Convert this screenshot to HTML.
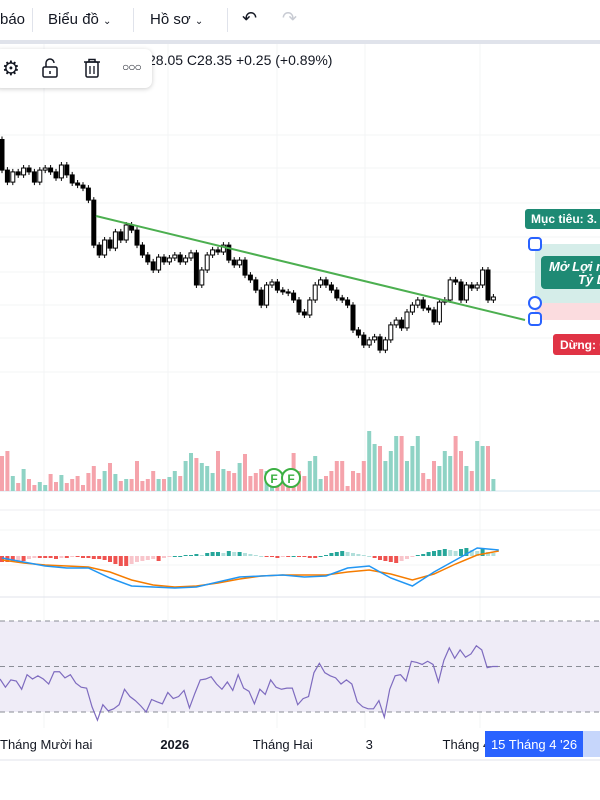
<!DOCTYPE html>
<html><head><meta charset="utf-8">
<style>
html,body{margin:0;padding:0;background:#fff;width:600px;height:800px;overflow:hidden;font-family:"Liberation Sans","DejaVu Sans",sans-serif;}
#wrap{position:relative;width:600px;height:800px;}
.tb{position:absolute;font-size:15px;color:#131722;top:11px;}
</style></head><body>
<div id="wrap">
<div style="position:absolute;left:0;top:0;width:600px;height:40px;background:#fff;border-bottom:4px solid #e0e3eb;">
  <span class="tb" style="left:0">báo</span>
  <div style="position:absolute;left:32px;top:8px;width:1px;height:24px;background:#e0e3eb"></div>
  <span class="tb" style="left:48px">Biểu đồ <span style="font-size:10px">&#8964;</span></span>
  <div style="position:absolute;left:133px;top:8px;width:1px;height:24px;background:#e0e3eb"></div>
  <span class="tb" style="left:150px">Hồ sơ <span style="font-size:10px">&#8964;</span></span>
  <div style="position:absolute;left:227px;top:8px;width:1px;height:24px;background:#e0e3eb"></div>
  <span class="tb" style="left:242px;font-size:18px;top:8px">&#8630;</span>
  <span class="tb" style="left:282px;font-size:18px;top:8px;color:#c8cbd3">&#8631;</span>
</div>
<svg id="chart" width="600" height="800" style="position:absolute;left:0;top:0">
  <g id="grid" stroke="#f3f4f6" stroke-width="1"></g>
  <rect x="0" y="621" width="600" height="91" fill="#efecf7"/>
  <g id="rsiLines" stroke="#8a8d96" stroke-dasharray="5,4" stroke-width="1"></g>
  <line x1="0" y1="491" x2="600" y2="491" stroke="#d6e4ef"/>
  <line x1="0" y1="510" x2="600" y2="510" stroke="#eceef2"/>
  <line x1="0" y1="597" x2="600" y2="597" stroke="#e0e3eb"/>
  <line x1="0" y1="760" x2="600" y2="760" stroke="#e0e3eb"/>
  <g id="vol"></g>
  <g id="macdHist"></g>
  <g id="candles"></g>
  <g id="lines"></g>
  <line x1="96" y1="216" x2="525" y2="320" stroke="#4caf50" stroke-width="2"/>
  <g>
    <rect x="535" y="244" width="65" height="59" fill="#d5ede9"/>
    <rect x="535" y="303" width="65" height="17" fill="#fbdcdf"/>
    <rect x="541" y="256" width="70" height="33" rx="4" fill="#1e8a74"/>
    <text x="549" y="271" fill="#fff" font-size="13" font-style="italic" font-weight="bold">Mở Lợi nhuận</text>
    <text x="578" y="284" fill="#fff" font-size="13" font-style="italic" font-weight="bold">Tỷ Lệ</text>
    <rect x="525" y="209" width="80" height="20" rx="3" fill="#1e8a74"/>
    <text x="531" y="223" fill="#fff" font-size="12" font-weight="bold">Mục tiêu: 3.</text>
    <rect x="553" y="334" width="60" height="21" rx="3" fill="#e03345"/>
    <text x="560" y="349" fill="#fff" font-size="12" font-weight="bold">Dừng: 0</text>
    <rect x="529" y="238" width="12" height="12" rx="3" fill="#fff" stroke="#2962ff" stroke-width="2"/>
    <circle cx="535" cy="303" r="6" fill="#fff" stroke="#2962ff" stroke-width="2"/>
    <rect x="529" y="313" width="12" height="12" rx="3" fill="#fff" stroke="#2962ff" stroke-width="2"/>
  </g>
  <g>
    <circle cx="274" cy="478" r="9" fill="#fff" stroke="#3cb043" stroke-width="2"/>
    <text x="274" y="483" fill="#3cb043" font-size="12" font-weight="bold" text-anchor="middle">F</text>
    <circle cx="291" cy="478" r="9" fill="#fff" stroke="#3cb043" stroke-width="2"/>
    <text x="291" y="483" fill="#3cb043" font-size="12" font-weight="bold" text-anchor="middle">F</text>
  </g>
  <g id="timeAxis" font-size="13" fill="#131722"></g>
  <rect x="534" y="731" width="66" height="26" fill="#c6d6fb"/>
  <rect x="485" y="731" width="98" height="26" fill="#2962ff"/>
  <text x="534" y="749" fill="#fff" font-size="13" text-anchor="middle">15 Tháng 4 '26</text>
  <text x="148" y="65" fill="#131722" font-size="14">28.05  C28.35  +0.25 (+0.89%)</text>
</svg>
<div style="position:absolute;left:-6px;top:49px;width:158px;height:39px;background:#fff;border-radius:7px;box-shadow:0 1px 5px rgba(0,0,0,0.2);">
  <span style="position:absolute;left:8px;top:7px;font-size:20px;color:#131722">&#9881;</span>
  <svg style="position:absolute;left:48px;top:9px" width="16" height="20"><path d="M4 9 V5 a4 4 0 0 1 8 0" fill="none" stroke="#131722" stroke-width="1.5"/><rect x="1" y="9" width="14" height="10" rx="1.5" fill="none" stroke="#131722" stroke-width="1.5"/><line x1="8" y1="13" x2="8" y2="16" stroke="#131722" stroke-width="1.5"/></svg>
  <svg style="position:absolute;left:89px;top:9px" width="18" height="20"><line x1="1" y1="4" x2="17" y2="4" stroke="#131722" stroke-width="1.5"/><path d="M6 4 V1.5 H12 V4" fill="none" stroke="#131722" stroke-width="1.5"/><rect x="3" y="4" width="12" height="15" rx="1.5" fill="none" stroke="#131722" stroke-width="1.5"/><line x1="7" y1="8" x2="7" y2="16" stroke="#131722" stroke-width="1.3"/><line x1="11" y1="8" x2="11" y2="16" stroke="#131722" stroke-width="1.3"/></svg>
  <span style="position:absolute;left:128px;top:11px;font-size:12px;color:#131722;letter-spacing:-1px">&#9675;&#9675;&#9675;</span>
</div>
</div>
<script>
var closes=[32.58,32.18,32.52,32.42,32.65,32.52,32.18,32.58,32.65,32.52,32.32,32.75,32.42,32.15,32.08,31.98,31.58,30.08,29.75,30.25,29.98,30.52,30.25,30.75,30.58,30.08,29.75,29.52,29.25,29.68,29.52,29.65,29.75,29.52,29.65,29.82,28.75,29.25,29.75,29.92,29.85,30.08,29.58,29.42,29.58,29.08,28.92,28.58,28.08,28.75,28.85,28.58,28.52,28.48,28.25,27.85,27.75,28.25,28.75,28.92,28.75,28.58,28.32,28.25,28.08,27.25,27.08,26.75,26.92,27.02,26.58,26.92,27.42,27.58,27.32,27.85,28.08,28.25,27.98,27.92,27.52,28.18,28.25,28.92,28.85,28.25,28.75,28.65,28.75,29.25,28.25,28.35];
var firstOpen=33.6;
var volumes=[35,40,15,8,22,12,6,9,6,17,9,16,8,12,15,6,18,25,12,20,28,17,10,12,12,30,10,12,20,12,12,14,20,15,30,38,33,28,25,18,40,22,20,18,28,37,15,18,22,20,10,20,15,20,38,20,15,30,35,12,15,20,30,30,5,20,18,30,60,47,45,30,40,55,55,30,45,55,18,12,30,25,40,35,55,40,25,20,50,45,45,12];
var macdHistVals=[-6,-6,-6,-5,-5,-3,-2,-2,-2,-2,-3,-2,-2,-1,-1,-2,-2,-3,-3,-4,-6,-8,-10,-10,-8,-6,-5,-4,-3,-5,-2,-1,0,0,1,1,2,1,3,4,4,3,5,4,4,3,2,1,0,-1,-1,-2,-1,-1,0,-1,-1,-2,-2,0,1,3,4,5,4,3,2,1,0,-2,-4,-5,-6,-7,-5,-3,-1,1,2,4,5,6,7,6,5,7,8,6,5,7,4,3];
var macdLine=[-2,-6,-10,-12,-12,-22,-30,-31,-32,-31,-26,-21,-20,-19,-21,-20,-12,-10,-22,-30,-16,-4,8,6];
var signalLine=[-4,-7,-9,-10,-11,-16,-24,-29,-31,-30,-27,-23,-20,-19,-19,-19,-16,-14,-18,-24,-18,-8,1,5];
var rsiVals=[44.5,40.9,44.1,43.6,40,46.4,44.5,45.9,44.5,42.3,47.7,47.7,45,46.4,42.7,40.9,40.5,32.3,26.4,33.2,30.5,31.4,33.2,40,36.8,35,32.7,30,35.5,34.5,33.6,38.6,35.9,36.8,39.5,31.8,38.2,44.1,44.5,45.5,42.3,40,43.2,39.5,46.4,40.5,39.1,33.6,40,37.7,44.1,40.9,40,40.5,40.5,33.2,35.9,36.8,47.3,51.4,47.3,45.9,45,42.3,44.1,42.3,34.5,32.3,31.4,31.4,35,27.7,40,45.9,46.4,43.6,52.3,51.8,50.9,52.3,50.9,43.2,52.7,58.2,53.6,57.3,54.1,55.5,59.1,57.3,49.5,50,50];
var rsiLevels=[70,50,30];
var timeLabels=["Tháng Mười hai","2026","Tháng Hai","3","Tháng 4"];
var timeLabelBars=[9,32,52,68,86];

var NS="http://www.w3.org/2000/svg";
function mk(tag,attrs,parent){var e=document.createElementNS(NS,tag);for(var k in attrs)e.setAttribute(k,attrs[k]);parent.appendChild(e);return e;}
function xBar(i){return 2+i*5.4;}
function yPrice(p){return 297-(p-28.35)*30;}
function yVol(v){return 491-v;}
function yMacd(v){return 556-v;}
function yRsi(v){return 666.5-(v-50)*2.275;}

var grid=document.getElementById('grid');
[44,168,277,365,480].forEach(function(x){var l=mk('line',{x1:x,y1:44,x2:x,y2:728},grid);

});
[135,168,203,237,272,305,338,372,530,565].forEach(function(y){var l=mk('line',{x1:0,y1:y,x2:600,y2:y},grid);

});

var rl=document.getElementById('rsiLines');
rsiLevels.forEach(function(v){var l=mk('line',{x1:0,y1:yRsi(v),x2:600,y2:yRsi(v)},rl);

});

var cg=document.getElementById('candles');
closes.forEach(function(c,i){
  var o=i===0?firstOpen:closes[i-1];
  var x=xBar(i), yo=yPrice(o), yc=yPrice(c);
  var top=Math.min(yo,yc), bot=Math.max(yo,yc);
  var w=mk('line',{x1:x,y1:top-3,x2:x,y2:bot+3,stroke:'#000','stroke-width':1},cg);
  
  
  var up=c>=o;
  var r=mk('rect',{x:x-2,y:top,width:4,height:Math.max(1,bot-top),fill:up?'#fff':'#000',stroke:'#000','stroke-width':1},cg);
  
  
});

var vg=document.getElementById('vol');
volumes.forEach(function(v,i){
  var o=i===0?firstOpen:closes[i-1];
  var r=mk('rect',{x:xBar(i)-2,y:yVol(v),width:4,height:v,fill:closes[i]>=o?'#8fd3c5':'#f5a3ab'},vg);
  
  
});

var hg=document.getElementById('macdHist');
macdHistVals.forEach(function(v,i){
  var prev=i===0?v:macdHistVals[i-1];
  var col=v>=0?(v>=prev?'#26a69a':'#b2dfdb'):(v<=prev?'#ef5350':'#f8c5cb');
  var y0=yMacd(0), y1=yMacd(v);
  var r=mk('rect',{x:xBar(i)-2,y:Math.min(y0,y1),width:4,height:Math.max(1,Math.abs(y1-y0)),fill:col},hg);
  
  
});

var lg=document.getElementById('lines');
function poly(arr,xf,yf,col,name,sw){
  var pts=arr.map(function(v,i){return xf(i)+','+yf(v);}).join(' ');
  var p=mk('polyline',{points:pts,fill:'none',stroke:col,'stroke-width':sw},lg);
  
  
}
poly(signalLine,function(i){return xBar(i*4);},yMacd,'#f57c00','macd-signal-line',1.5);
poly(macdLine,function(i){return xBar(i*4);},yMacd,'#2196f3','macd-line',1.5);
poly(rsiVals,function(i){return i*498/(rsiVals.length-1);},yRsi,'#7e6bbf','rsi-line',1.2);

var ta=document.getElementById('timeAxis');
timeLabels.forEach(function(t,i){
  var tx=mk('text',{x:xBar(timeLabelBars[i]),y:749,'text-anchor':i===0?'start':'middle','font-weight':t==='2026'?'bold':'normal'},ta);
  if(i===0)tx.setAttribute('x',0);
  tx.textContent=t;
  
  
});
</script>
</body></html>
